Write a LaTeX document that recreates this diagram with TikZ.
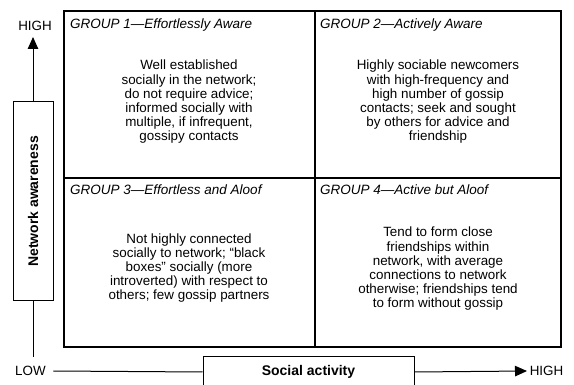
\documentclass[tikz,border=0pt]{standalone}
\usepackage{fontspec}
\setmainfont{Liberation Sans}
\usetikzlibrary{arrows.meta,positioning}

\tikzset{
  grid/.style={line width=1.4pt},
  axis/.style={line width=1pt},
  axisarrow/.style={axis,-{Triangle[length=12pt,width=10.5pt]}},
  grouptitle/.style={anchor=base west,inner sep=0pt,font=\fontsize{13.5}{16}\selectfont\itshape},
  groupbody/.style={align=center,inner sep=0pt,font=\fontsize{13.4}{14.2}\selectfont},
  axislabel/.style={font=\fontsize{13.4}{16}\selectfont},
  axisbox/.style={draw,line width=1pt,inner sep=0pt,font=\fontsize{14}{16}\selectfont\bfseries}
}

\begin{document}
\begin{tikzpicture}[x=1pt,y=-1pt]
  \useasboundingbox (0,0) rectangle (574,385);

  % the four groups
  \draw[grid] (64,11) rectangle (561,347);
  \draw[grid] (315,11) -- (315,347);
  \draw[grid] (64,178) -- (561,178);

  \node[grouptitle] (t1) at (70,29) {GROUP 1---Effortlessly Aware};
  \node[grouptitle] (t2) at (320,29) {GROUP 2---Actively Aware};
  \node[grouptitle] (t3) at (70,195) {GROUP 3---Effortless and Aloof};
  \node[grouptitle] (t4) at (320,195) {GROUP 4---Active but Aloof};

  \node[groupbody] (b1) at (189,102) {Well established\\socially in the network;\\do not require advice;\\informed socially with\\multiple, if infrequent,\\gossipy contacts};
  \node[groupbody] (b2) at (438,102) {Highly sociable newcomers\\with high-frequency and\\high number of gossip\\contacts; seek and sought\\by others for advice and\\friendship};
  \node[groupbody] (b3) at (189,268) {Not highly connected\\socially to network; ``black\\boxes'' socially (more\\introverted) with respect to\\others; few gossip partners};
  \node[groupbody] (b4) at (438,269) {Tend to form close\\friendships within\\network, with average\\connections to network\\otherwise; friendships tend\\to form without gossip};

  % network awareness axis
  \node[axisbox,minimum width=40pt,minimum height=199pt] (ny) at (33,201.5) {\rotatebox{90}{Network awareness}};
  \node[axislabel] (yhigh) at (35,26) {HIGH};
  \coordinate (ytip) at (33,37);
  \coordinate (ybot) at (33,357);
  \draw[axisarrow] (ny.north) -- (ytip);
  \draw[axis] (ny.south) -- (ybot);

  % social activity axis
  \node[axislabel] (low) at (30.5,371) {LOW};
  \node[axisbox,minimum width=211pt,minimum height=30pt] (sx) at (308.5,372) {Social activity};
  \node[axislabel] (xhigh) at (546.5,371) {HIGH};
  \coordinate (xtip) at (527,371);
  \draw[axis] ([xshift=4pt]low.east) -- (sx.west);
  \draw[axisarrow] (sx.east) -- (xtip);
\end{tikzpicture}
\end{document}
